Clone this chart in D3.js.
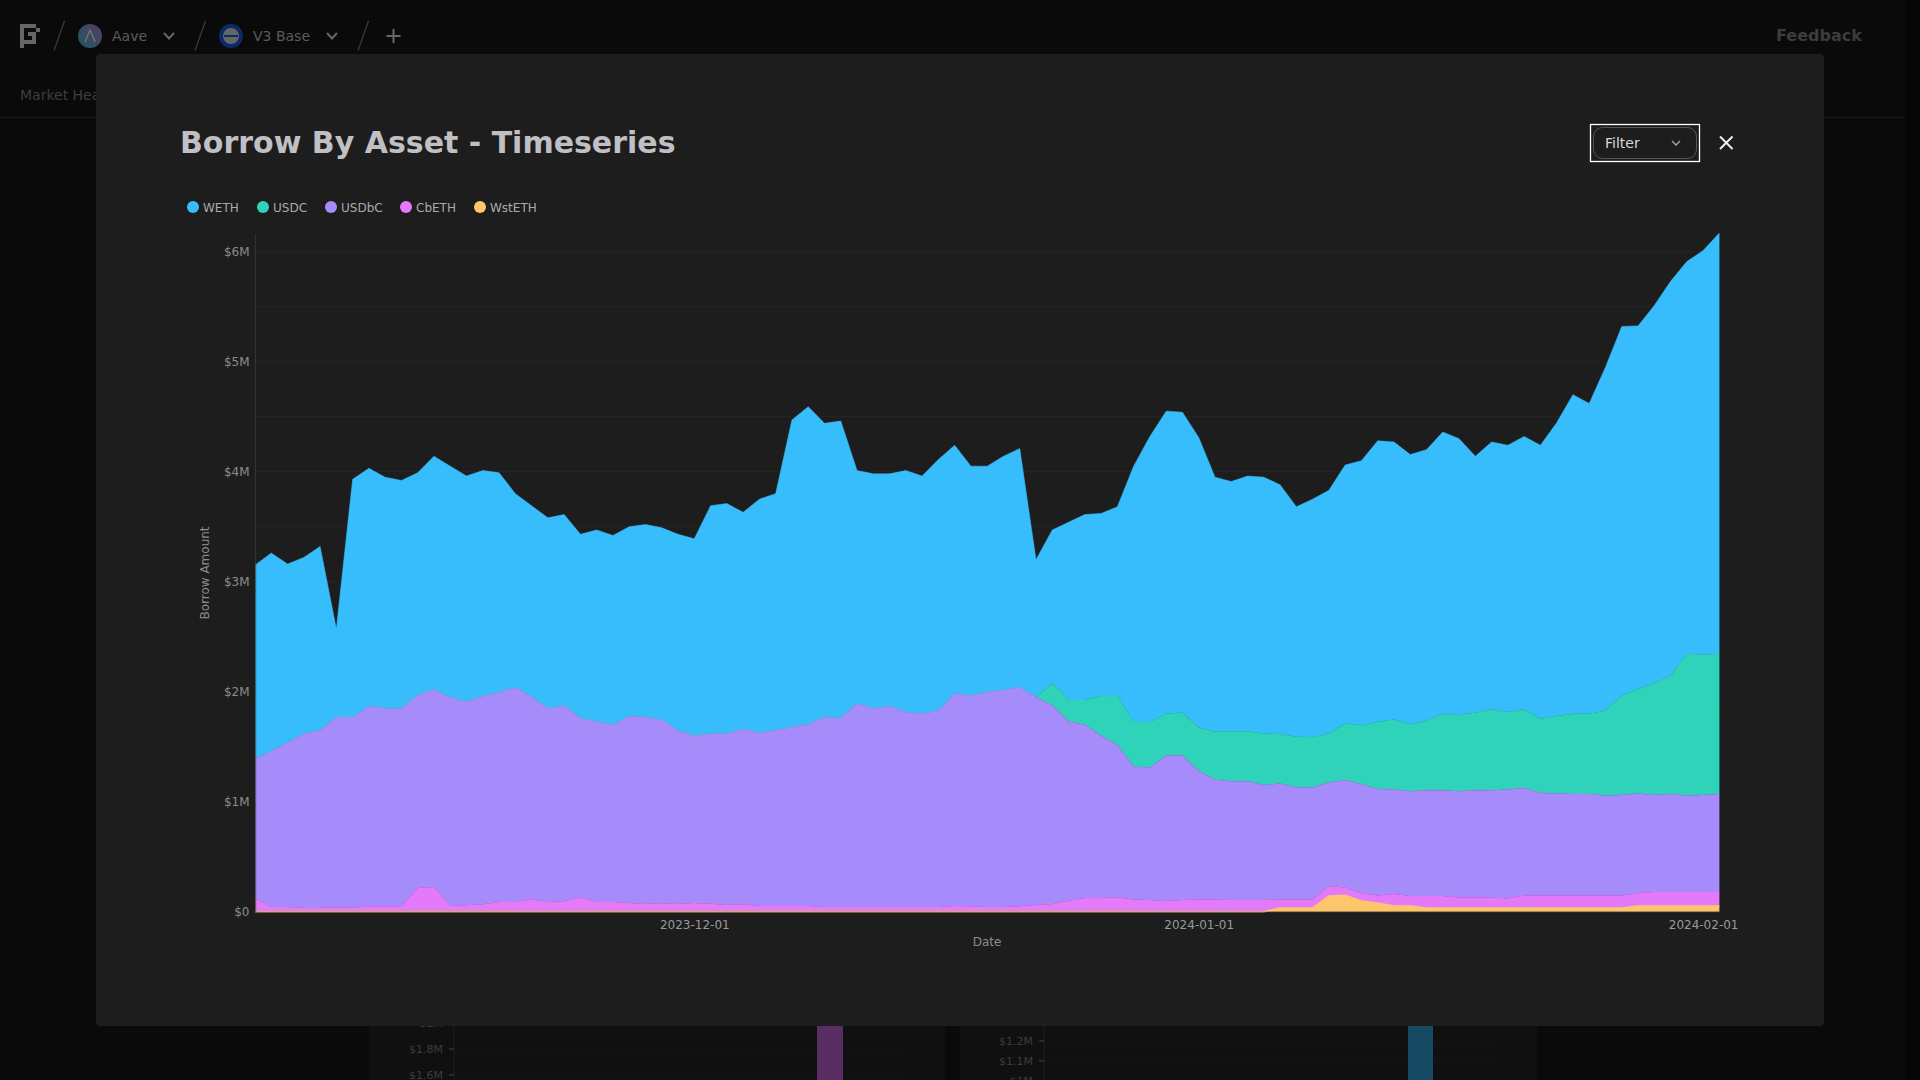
<!DOCTYPE html>
<html><head><meta charset="utf-8">
<script src="https://cdn.jsdelivr.net/npm/d3@7/dist/d3.min.js"></script>
<style>
html,body{margin:0;padding:0;background:#0a0a0a;overflow:hidden}
svg{display:block;font-family:"DejaVu Sans",sans-serif}
</style></head><body><svg id="c" width="1920" height="1080"></svg>
<script>
// ---- Data ($M, daily) ----
const startDate = "2023-11-04", endDate = "2024-02-02";
const seriesNames = ["WstETH","CbETH","USDbC","USDC","WETH"];
const WETH = [1.76,1.80,1.62,1.60,1.67,.80,2.16,2.16,2.10,2.07,2.02,2.12,2.10,2.05,2.05,1.995,1.76,1.735,1.73,1.735,1.67,1.74,1.72,1.72,1.75,1.745,1.78,1.79,2.07,2.09,1.97,2.12,2.15,2.79,2.885,2.67,2.70,2.115,2.13,2.11,2.195,2.16,2.28,2.255,2.085,2.05,2.125,2.165,1.25,1.39,1.615,1.685,1.66,1.72,2.325,2.595,2.75,2.73,2.635,2.315,2.27,2.32,2.33,2.265,2.09,2.165,2.21,2.35,2.405,2.555,2.52,2.45,2.465,2.56,2.515,2.33,2.43,2.425,2.48,2.485,2.665,2.90,2.82,3.12,3.355,3.30,3.43,3.585,3.565,3.675,3.825];
const USDC = [0,0,0,0,0,0,0,0,0,0,0,0,0,0,0,0,0,0,0,0,0,0,0,0,0,0,0,0,0,0,0,0,0,0,0,0,0,0,0,0,0,0,0,0,0,0,0,0,0,.205,.195,.225,.36,.445,.405,.415,.38,.39,.395,.435,.455,.455,.47,.45,.46,.455,.445,.515,.535,.61,.64,.61,.63,.695,.69,.705,.735,.705,.715,.675,.705,.73,.73,.775,.905,.95,1.02,1.075,1.29,1.275,1.275];
const USDbC = [1.27,1.418,1.498,1.587,1.617,1.73,1.737,1.82,1.80,1.80,1.755,1.795,1.892,1.852,1.893,1.907,1.952,1.843,1.762,1.781,1.63,1.642,1.612,1.70,1.70,1.669,1.58,1.52,1.547,1.56,1.593,1.578,1.598,1.628,1.653,1.728,1.718,1.853,1.808,1.828,1.773,1.758,1.788,1.933,1.915,1.958,1.973,1.995,1.89,1.805,1.63,1.576,1.476,1.385,1.21,1.204,1.323,1.314,1.168,1.088,1.079,1.079,1.044,1.053,1.018,1.018,.942,.974,.993,.967,.95,.953,.963,.963,.965,.975,.975,.989,.977,.932,.927,.922,.922,.907,.912,.908,.88,.89,.875,.88,.89];
const CbETH = [.12,.042,.042,.033,.033,.04,.033,.05,.05,.05,.215,.225,.058,.058,.067,.088,.088,.112,.088,.094,.13,.088,.088,.08,.07,.076,.07,.08,.073,.06,.067,.052,.052,.052,.052,.042,.042,.042,.042,.042,.042,.042,.042,.052,.05,.042,.042,.05,.06,.07,.10,.124,.124,.13,.11,.106,.097,.106,.112,.112,.106,.106,.106,.079,.079,.079,.091,.073,.07,.069,.108,.09,.109,.109,.097,.097,.097,.088,.115,.115,.115,.115,.115,.115,.115,.115,.128,.128,.128,.128,.128];
const WstETH = [0,0,0,0,0,0,0,0,0,0,0,0,0,0,0,0,0,0,0,0,0,0,0,0,0,0,0,0,0,0,0,0,0,0,0,0,0,0,0,0,0,0,0,0,0,0,0,0,0,0,0,0,0,0,0,0,0,0,0,0,0,0,0,.033,.033,.033,.142,.148,.097,.079,.052,.052,.033,.033,.033,.033,.033,.033,.033,.033,.033,.033,.033,.033,.033,.052,.052,.052,.052,.052,.052];
const legendNames = ["WETH","USDC","USDbC","CbETH","WstETH"];
const colors = {WETH:"#38BDFC",USDC:"#2ED3B9",USDbC:"#A68BFA",CbETH:"#E37AF9",WstETH:"#FDC66C"};
const yLabelTicks = [0,1,2,3,4,5,6];
const yGridTicks = [.5,1,1.5,2,2.5,3,3.5,4,4.5,5,5.5,6];
const xTickDates = ["2023-12-01","2024-01-01","2024-02-01"];
// Dimmed cards behind the modal
const bgLeftTicks = [2,1.8,1.6], bgRightTicks = [1.2,1.1,1];

const svg = d3.select("#c");
const dates = d3.utcDay.range(new Date(startDate+"T00:00Z"), d3.utcDay.offset(new Date(endDate+"T00:00Z"),1));
const table = dates.map((d,i)=>({date:d,WETH:WETH[i],USDC:USDC[i],USDbC:USDbC[i],CbETH:CbETH[i],WstETH:WstETH[i]}));
const x = d3.scaleUtc().domain([dates[0],dates[dates.length-1]]).range([255,1719.4]);
const y = d3.scaleLinear().domain([0,6.165]).range([911.7,233.5]);
const stacked = d3.stack().keys(seriesNames)(table);

// ---- dim page behind modal ----
svg.append("rect").attr("width",1920).attr("height",1080).attr("fill","#0a0a0a");
svg.append("rect").attr("x",1905).attr("width",15).attr("height",1080).attr("fill","#060606");
svg.append("rect").attr("y",0).attr("width",1905).attr("height",50).attr("fill","#0a0a0a");
svg.append("line").attr("x1",0).attr("x2",1905).attr("y1",117.5).attr("y2",117.5).attr("stroke","#1b1b1b");
const head = svg.append("g");
// logo (pixel mark)
[[20,24,16,4],[36,28,4,4],[20,24,4,20],[20,40,16,4],[28,32,8,4],[32,32,4,12],[20,44,4,4]].forEach(r=>
  head.append("rect").attr("x",r[0]).attr("y",r[1]).attr("width",r[2]).attr("height",r[3]).attr("fill","#666"));
[[54,50.5,64.5,21],[195,50.5,205.5,21],[358,50.5,368.5,21]].forEach(s=>
  head.append("line").attr("x1",s[0]).attr("y1",s[1]).attr("x2",s[2]).attr("y2",s[3]).attr("stroke","#3d3d3d").attr("stroke-width",1.2));
const defs = svg.append("defs");
const g = defs.append("linearGradient").attr("id","aave").attr("x1",0).attr("y1",1).attr("x2",1).attr("y2",0);
g.append("stop").attr("offset",0).attr("stop-color","#1d5a66");
g.append("stop").attr("offset",1).attr("stop-color","#5a3a5e");
head.append("circle").attr("cx",90).attr("cy",36).attr("r",12).attr("fill","url(#aave)");
head.append("path").attr("d","M85 42L90 30L95 42").attr("fill","none").attr("stroke","#7a7a7a").attr("stroke-width",1.2);
head.append("circle").attr("cx",231).attr("cy",36).attr("r",10).attr("fill","#666").attr("stroke","#0a2a6a").attr("stroke-width",4);
head.append("line").attr("x1",224).attr("x2",238).attr("y1",36).attr("y2",36).attr("stroke","#0a2a6a").attr("stroke-width",2);
const dimText=(t,xp,yp,s,c,w)=>head.append("text").text(t).attr("x",xp).attr("y",yp).attr("font-size",s).attr("fill",c).attr("font-weight",w||400).attr("dominant-baseline","central");
dimText("Aave",112,36,14,"#5c5c5c");
dimText("V3 Base",253,36,14,"#5c5c5c");
dimText("Market Health",20,95,14,"#3e3e3e");
dimText("Feedback",1776,35,16,"#3c3c3c",700);
[169,332].forEach(cx=>head.append("path").attr("d",`M${cx-5} 33L${cx} 38.5L${cx+5} 33`).attr("fill","none").attr("stroke","#666").attr("stroke-width",2));
head.append("path").attr("d","M393.5 29V43M386.5 36H400.5").attr("stroke","#666").attr("stroke-width",2);

// background cards
const cards=[{x0:369,x1:945,ax:454,gx:903,bar:[817,843],col:"#5a2e63",ticks:bgLeftTicks,scale:d3.scaleLinear().domain([1.6,1.8]).range([1075,1049])},
             {x0:960,x1:1537,ax:1044,gx:1495,bar:[1408,1433],col:"#164a63",ticks:bgRightTicks,scale:d3.scaleLinear().domain([1,1.2]).range([1081,1041])}];
cards.forEach(c=>{
  svg.append("rect").attr("x",c.x0).attr("y",1000).attr("width",c.x1-c.x0).attr("height",80).attr("fill","#101010");
  svg.append("line").attr("x1",c.ax).attr("x2",c.ax).attr("y1",1000).attr("y2",1080).attr("stroke","#171717").attr("stroke-width",2);
  c.ticks.forEach(t=>{
    const yy=c.scale(t);
    svg.append("line").attr("x1",c.ax).attr("x2",c.gx).attr("y1",yy).attr("y2",yy).attr("stroke","#151515");
    svg.append("line").attr("x1",c.ax-5).attr("x2",c.ax).attr("y1",yy).attr("y2",yy).attr("stroke","#333").attr("stroke-width",1.5);
    svg.append("text").text("$"+t+"M").attr("x",c.ax-11).attr("y",yy).attr("text-anchor","end").attr("dominant-baseline","central").attr("font-size",11).attr("fill","#3c3c3c");
  });
  svg.append("rect").attr("x",c.bar[0]).attr("y",1000).attr("width",c.bar[1]-c.bar[0]).attr("height",80).attr("fill",c.col);
});

// ---- modal ----
svg.append("rect").attr("x",96).attr("y",54).attr("width",1728).attr("height",972).attr("rx",4).attr("fill","#1d1d1d");
svg.append("text").text("Borrow By Asset - Timeseries").attr("x",180).attr("y",142).attr("dominant-baseline","central")
  .attr("font-size",30).attr("font-weight",700).attr("fill","#c0c0c4");
// filter
svg.append("rect").attr("x",1590.5).attr("y",124.5).attr("width",109).attr("height",37).attr("fill","none").attr("stroke","#fff").attr("stroke-width",1.3);
svg.append("rect").attr("x",1593.5).attr("y",127.5).attr("width",103).attr("height",31).attr("rx",9).attr("fill","none").attr("stroke","#555");
svg.append("text").text("Filter").attr("x",1605).attr("y",143).attr("dominant-baseline","central").attr("font-size",14).attr("fill","#d8d8d8");
svg.append("path").attr("d","M1672 141L1676 145L1680 141").attr("fill","none").attr("stroke","#aaa").attr("stroke-width",1.3);
svg.append("path").attr("d","M1720 136.5L1732.5 149M1732.5 136.5L1720 149").attr("stroke","#eee").attr("stroke-width",2);
// legend
const legendX=[193,263,331,406,480];
legendNames.forEach((n,i)=>{
  svg.append("circle").attr("cx",legendX[i]).attr("cy",207).attr("r",6).attr("fill",colors[n]);
  svg.append("text").text(n).attr("x",legendX[i]+10).attr("y",207.5).attr("dominant-baseline","central").attr("font-size",12).attr("fill","#aaa");
});

// grid
svg.append("g").selectAll("line").data(yGridTicks).join("line")
  .attr("x1",255).attr("x2",1719).attr("y1",d=>y(d)).attr("y2",d=>y(d)).attr("stroke","#252525");

// areas
const area = d3.area().x(d=>x(d.data.date)).y0(d=>y(d[0])).y1(d=>y(d[1]));
const line = d3.line().x(d=>x(d.data.date)).y(d=>y(d[1]));
[...stacked].reverse().forEach(s=>{
  svg.append("path").attr("d",area(s)).attr("fill",colors[s.key]);
});
[...stacked].reverse().forEach(s=>{
  svg.append("path").attr("d",line(s)).attr("fill","none").attr("stroke",colors[s.key]).attr("stroke-width",s.key==="WstETH"?1.6:1).attr("stroke-opacity",s.key==="WstETH"?1:.55);
});

// axes
const yAxis = d3.axisLeft(y).tickValues(yLabelTicks).tickFormat(d=>d===0?"$0":"$"+d+"M").tickSize(0).tickPadding(5.5);
const ya = svg.append("g").attr("transform","translate(255,0)").call(yAxis);
ya.select(".domain").attr("stroke","rgba(60,60,60,.7)").attr("stroke-width",1.4);
ya.selectAll("text").attr("font-size",12).attr("fill","#8c8c8c").attr("font-family","DejaVu Sans");
const xAxis = d3.axisBottom(x).tickValues(xTickDates.map(d=>new Date(d+"T00:00Z"))).tickFormat(d3.utcFormat("%Y-%m-%d")).tickSize(0).tickPadding(8.5);
const xa = svg.append("g").attr("transform","translate(0,911.7)").call(xAxis);
xa.select(".domain").attr("stroke","rgba(60,60,60,.4)").attr("stroke-width",1.2);
xa.selectAll("text").attr("font-size",12).attr("fill","#9a9a9a").attr("font-family","DejaVu Sans");
svg.append("text").text("Date").attr("x",987).attr("y",942).attr("text-anchor","middle").attr("dominant-baseline","central").attr("font-size",12).attr("fill","#8c8c8c");
svg.append("text").text("Borrow Amount").attr("transform","translate(205,573) rotate(-90)").attr("text-anchor","middle").attr("dominant-baseline","central").attr("font-size",12).attr("fill","#8c8c8c");
</script></body></html>
